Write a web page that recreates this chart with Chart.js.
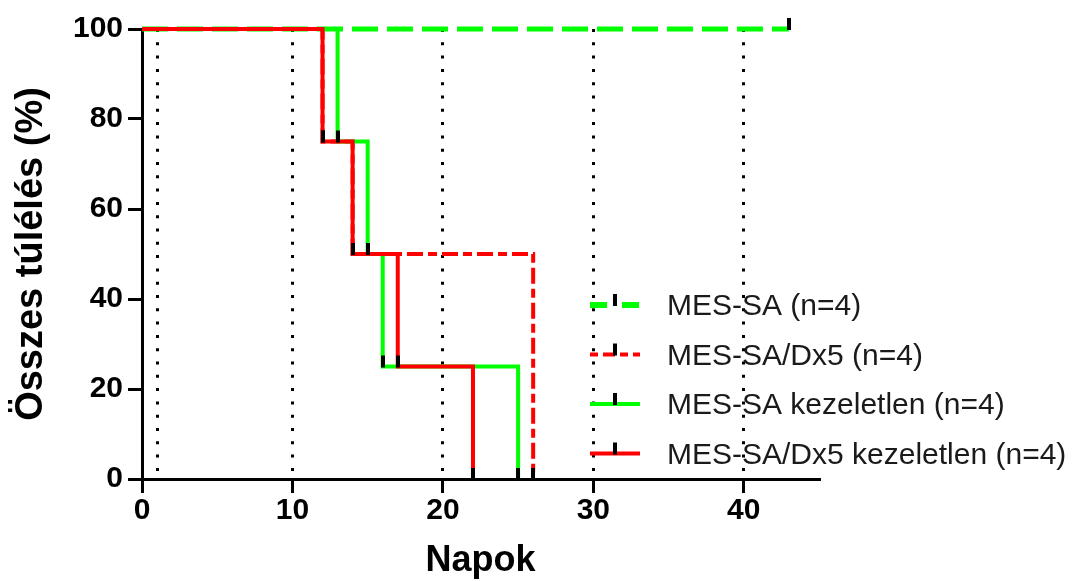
<!DOCTYPE html>
<html><head><meta charset="utf-8">
<script src="https://cdn.jsdelivr.net/npm/chart.js@4/dist/chart.umd.min.js"></script>
<style>html,body{margin:0;padding:0;background:#fff}canvas{display:block}</style>
</head><body>
<canvas id="c" width="1087" height="581"></canvas>
<script>
// ---- data ----
const seriesLabels = ['MES-SA (n=4)', 'MES-SA/Dx5 (n=4)', 'MES-SA kezeletlen (n=4)', 'MES-SA/Dx5 kezeletlen (n=4)'];
const mesSaDays = [0, 43];
const mesSaSurv = [100, 100];
const dx5Days = [0, 12, 14, 26];
const dx5Surv = [100, 75, 50, 0];
const mesSaUntrDays = [0, 13, 15, 16, 25];
const mesSaUntrSurv = [100, 75, 50, 25, 0];
const dx5UntrDays = [0, 12, 14, 17, 22];
const dx5UntrSurv = [100, 75, 50, 25, 0];
const xTickLabels = [0, 10, 20, 30, 40];
const xGridDays = [1, 10, 20, 30, 40];
const yTicks = [0, 20, 40, 60, 80, 100];
const xTitle = 'Napok';
const yTitle = 'Összes túlélés (%)';

// ---- helpers ----
const FONT = "'Liberation Sans', Arial, Helvetica, sans-serif";
const toPts = (xs, ys) => xs.map((x, i) => ({x: x, y: ys[i]}));
function makeMark() {
  const c = document.createElement('canvas');
  c.width = 4; c.height = 24;
  const g = c.getContext('2d');
  g.fillStyle = '#000';
  g.fillRect(0, 1, 4, 12);
  return c;
}
const markImg = makeMark();

const series = [
  {label: seriesLabels[0], pts: toPts(mesSaDays, mesSaSurv), color: '#00ff00', width: 5, dash: [26, 9], legendDash: [17, 15], legendWidth: 6, order: 4},
  {label: seriesLabels[1], pts: toPts(dx5Days, dx5Surv), color: '#ff0000', width: 4, dash: [16, 5, 9, 5], legendDash: [8, 5, 12, 5], legendWidth: 4, order: 3},
  {label: seriesLabels[2], pts: toPts(mesSaUntrDays, mesSaUntrSurv), color: '#00ff00', width: 4, dash: [], legendDash: [], legendWidth: 4, order: 2},
  {label: seriesLabels[3], pts: toPts(dx5UntrDays, dx5UntrSurv), color: '#ff0000', width: 4, dash: [], legendDash: [], legendWidth: 4, order: 1}
];

const datasets = series.map(s => ({
  label: s.label,
  data: s.pts,
  borderColor: s.color,
  backgroundColor: s.color,
  borderWidth: s.width,
  borderDash: s.dash,
  borderCapStyle: 'butt',
  borderJoinStyle: 'miter',
  stepped: 'before',
  pointRadius: 0,
  fill: false,
  clip: false,
  order: s.order,
  legendDash: s.legendDash,
  legendWidth: s.legendWidth
}));
// censor / event marks built from the series points (skip the start point)
datasets.push({
  label: 'marks',
  isMarks: true,
  data: series.flatMap(s => s.pts.slice(1)),
  showLine: false,
  pointStyle: markImg,
  pointRadius: 6,
  pointHoverRadius: 6,
  borderColor: '#000',
  backgroundColor: '#000',
  clip: false,
  order: 0
});

const legendPlugin = {
  id: 'kmLegend',
  afterDraw(chart) {
    const ctx = chart.ctx;
    const x0 = 590, x1 = 640, xm = 615, xt = 667, y0 = 305, dy = 49.5;
    let i = 0;
    chart.data.datasets.forEach(ds => {
      if (ds.isMarks) return;
      const y = y0 + i * dy;
      ctx.save();
      ctx.strokeStyle = ds.borderColor;
      ctx.lineWidth = ds.legendWidth;
      ctx.setLineDash(ds.legendDash);
      ctx.lineCap = 'butt';
      ctx.beginPath();
      ctx.moveTo(x0, y);
      ctx.lineTo(x1, y);
      ctx.stroke();
      ctx.setLineDash([]);
      ctx.drawImage(markImg, xm - markImg.width / 2, y - markImg.height / 2);
      ctx.fillStyle = '#1a1a1a';
      ctx.font = '30px ' + FONT;
      ctx.textAlign = 'left';
      ctx.textBaseline = 'middle';
      ctx.fillText(ds.label, xt, y + 2);
      ctx.restore();
      i++;
    });
  }
};

new Chart(document.getElementById('c'), {
  type: 'line',
  data: {datasets: datasets},
  plugins: [legendPlugin],
  options: {
    responsive: false,
    animation: false,
    events: [],
    layout: {padding: {left: 0, top: 29, right: 268, bottom: 0}},
    plugins: {legend: {display: false}, tooltip: {enabled: false}},
    scales: {
      x: {
        type: 'linear', min: 0, max: 45,
        afterBuildTicks: s => {
          const vals = [...new Set([...xTickLabels, ...xGridDays])].sort((a, b) => a - b);
          s.ticks = vals.map(v => ({value: v}));
        },
        afterFit: s => { s.height = 102; },
        grid: {
          drawOnChartArea: true,
          drawTicks: true,
          color: c => (c.tick && xGridDays.includes(c.tick.value)) ? '#000' : 'rgba(0,0,0,0)',
          lineWidth: 3,
          tickLength: 14,
          tickWidth: 3,
          tickColor: c => (c.tick && xTickLabels.includes(c.tick.value)) ? '#000' : 'rgba(0,0,0,0)'
        },
        border: {display: true, color: '#000', width: 3, dash: [3, 10.3]},
        ticks: {
          autoSkip: false, maxRotation: 0, minRotation: 0,
          color: '#000',
          padding: 3,
          font: {family: FONT, size: 30, weight: 'bold', lineHeight: 1},
          callback: v => xTickLabels.includes(v) ? String(v) : ''
        },
        title: {display: true, text: xTitle, color: '#000', font: {family: FONT, size: 36, weight: 'bold', lineHeight: 1}, padding: {top: 0, bottom: 2}}
      },
      y: {
        type: 'linear', min: 0, max: 100,
        afterBuildTicks: s => { s.ticks = yTicks.map(v => ({value: v})); },
        afterFit: s => { s.width = 142; },
        grid: {drawOnChartArea: false, drawTicks: true, tickLength: 14, tickWidth: 3, tickColor: '#000', lineWidth: 3, color: '#000'},
        border: {display: true, color: '#000', width: 3},
        ticks: {
          autoSkip: false,
          color: '#000',
          padding: 5,
          font: {family: FONT, size: 30, weight: 'bold', lineHeight: 1},
          callback: v => String(v)
        },
        title: {display: true, text: yTitle, color: '#000', font: {family: FONT, size: 38, weight: 'bold', lineHeight: 1}, padding: {top: 13, bottom: 0}}
      }
    }
  }
});
</script>
</body></html>
